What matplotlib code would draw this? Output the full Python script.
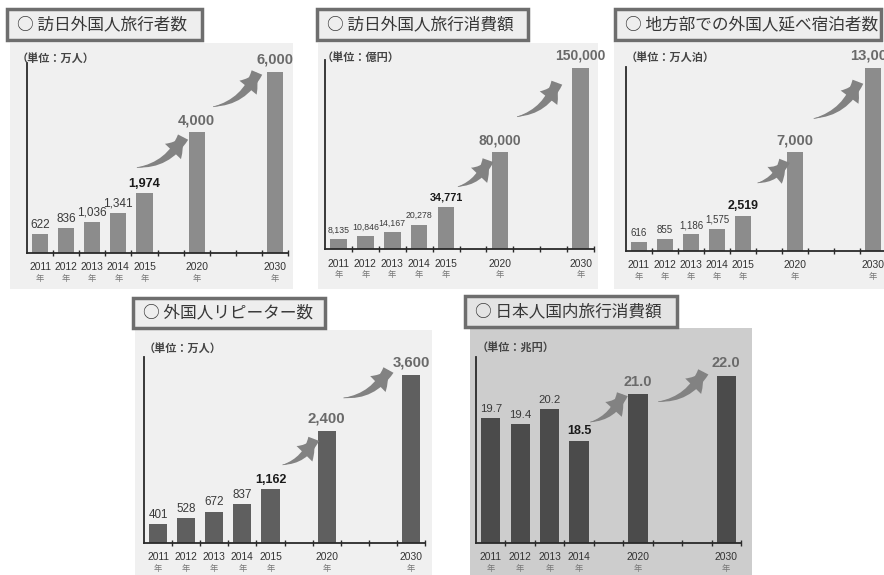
import numpy as np
import matplotlib.pyplot as plt
from matplotlib.patches import Rectangle, FancyArrowPatch


# -------------------------------------------------
# 1. Datos
# -------------------------------------------------
anios = ["2011", "2012", "2013", "2014", "2015", "2020", "2030"]
anios_nacional = ["2011", "2012", "2013", "2014", "2020", "2030"]

visitantes = [622, 836, 1036, 1341, 1974, 4000, 6000]
consumo_visitantes = [8135, 10846, 14167, 20278, 34771, 80000, 150000]
pernoctaciones_regionales = [616, 855, 1186, 1575, 2519, 7000, 13000]
repetidores = [401, 528, 672, 837, 1162, 2400, 3600]
consumo_nacional = [19.7, 19.4, 20.2, 18.5, 21.0, 22.0]

titulos = ["訪日外国人旅行者数", "訪日外国人旅行消費額", "地方部での外国人延べ宿泊者数",
           "外国人リピーター数", "日本人国内旅行消費額"]
unidades = ["（単位：万人）", "（単位：億円）", "（単位：万人泊）",
            "（単位：万人）", "（単位：兆円）"]
metas = ["2020", "2030"]

W, H = 884, 575
NUM = ["Liberation Sans", "Noto Sans CJK JP"]
CJK = ["Noto Sans CJK JP", "DejaVu Sans"]


# -------------------------------------------------
# 2. Utilidades
# -------------------------------------------------
def rect_fig(x0, y0, x1, y1):
    """Pixeles (origen arriba-izquierda) -> fracción de figura."""
    return [x0 / W, 1 - y1 / H, (x1 - x0) / W, (y1 - y0) / H]


def posiciones(lista_anios):
    """Huecos extra antes de las metas 2020 y 2030."""
    salto = {"2020": 1, "2030": 3}
    return [i + salto.get(a, 0) for i, a in enumerate(lista_anios)]


def formato(v):
    return f"{v:.1f}" if isinstance(v, float) else f"{v:,}"


def flecha(ax, a, b, color="#828282"):
    """Flecha curva con cuerpo afilado (x en datos, y en fracción de ejes)."""
    t = ax.get_xaxis_transform()
    cuerpo = FancyArrowPatch(b, a, transform=t,
                             arrowstyle="wedge,tail_width=0.75,shrink_factor=0.55",
                             connectionstyle="arc3,rad=-0.28", mutation_scale=11,
                             color=color, lw=0, shrinkA=0, shrinkB=0, clip_on=False)
    punta = FancyArrowPatch(a, b, transform=t,
                            arrowstyle="simple,head_width=1.45,head_length=1.15,tail_width=0.05",
                            connectionstyle="arc3,rad=0.28", mutation_scale=11,
                            color=color, lw=0, shrinkA=0, shrinkB=0, clip_on=False)
    ax.add_patch(cuerpo)
    ax.add_patch(punta)


# -------------------------------------------------
# 3. Panel
# -------------------------------------------------
def dibujar_panel(fig, p):
    fig.add_artist(Rectangle(rect_fig(*p["fondo"])[:2], *rect_fig(*p["fondo"])[2:],
                             transform=fig.transFigure, facecolor=p["color_fondo"],
                             edgecolor="none", zorder=0))
    cx0, cy0, cx1, cy1 = p["caja"]
    fig.add_artist(Rectangle(rect_fig(*p["caja"])[:2], *rect_fig(*p["caja"])[2:],
                             transform=fig.transFigure, facecolor=p["color_caja"],
                             edgecolor="#6e6e6e", linewidth=2.5, zorder=1))
    fig.text((cx0 + 10) / W, 1 - (cy0 + cy1) / 2 / H, "○ " + p["titulo"],
             fontsize=12, family=CJK, color="#383838", ha="left", va="center")
    fig.text(p["unidad"][0] / W, 1 - p["unidad"][1] / H, p["texto_unidad"],
             fontsize=8, family=CJK, fontweight="bold", color="#444444",
             ha="left", va="center")

    x0, top, x1, base = p["ejes"]
    ax = fig.add_axes(rect_fig(x0, top, x1, base))
    ax.patch.set_visible(False)

    pos = posiciones(p["anios"])
    n = pos[-1] + 1
    ax.bar(pos, p["valores"], width=p["ancho"], color=p["color_barra"])
    ax.set_xlim(-0.5, n - 0.5)
    ax.set_ylim(*p["ylim"])

    for s in ["top", "right"]:
        ax.spines[s].set_visible(False)
    for s in ["left", "bottom"]:
        ax.spines[s].set_color("#2a2a2a")
        ax.spines[s].set_linewidth(1.3)
    ax.set_yticks([])
    ax.set_xticks([])
    ax.set_xticks(np.arange(n) + 0.5, minor=True)
    ax.tick_params(which="minor", direction="inout", length=4, width=1, color="#2a2a2a")

    ultimo = max(i for i, a in enumerate(p["anios"]) if a not in metas)
    chico, negrita, grande = p["tamanos"]
    for i, (x, a, v) in enumerate(zip(pos, p["anios"], p["valores"])):
        if a in metas:
            kw = dict(fontsize=grande, fontweight="bold", color="#6a6a6a")
            dy = 6
        elif i == ultimo:
            kw = dict(fontsize=negrita, fontweight="bold", color="#1a1a1a")
            dy = 4.5
        else:
            kw = dict(fontsize=chico, color="#3a3a3a")
            dy = 4.5
        ax.annotate(formato(v), xy=(x, v), xytext=(0, dy), textcoords="offset points",
                    ha="center", va="baseline", family=NUM, annotation_clip=False, **kw)
        ax.annotate(a, xy=(x, 0), xycoords=ax.get_xaxis_transform(), xytext=(0, -12.6),
                    textcoords="offset points", ha="center", va="baseline",
                    fontsize=7.4, family=NUM, color="#333333")
        ax.annotate("年", xy=(x, 0), xycoords=ax.get_xaxis_transform(), xytext=(0, -20),
                    textcoords="offset points", ha="center", va="baseline",
                    fontsize=6, family=CJK, color="#777777")

    for a, b in p["flechas"]:
        flecha(ax, a, b)


# -------------------------------------------------
# 4. Figura
# -------------------------------------------------
paneles = [
    dict(titulo=titulos[0], texto_unidad=unidades[0], anios=anios, valores=visitantes,
         fondo=(10, 43, 293, 289), caja=(7, 9, 202, 40), ejes=(27, 63, 288, 253),
         ylim=(0, 6300), unidad=(17, 58), color_fondo="#f0f0f0", color_caja="#eeeeee",
         color_barra="#8c8c8c", ancho=0.62, tamanos=(8.5, 9.2, 10.5),
         flechas=[((3.71, 0.45), (5.48, 0.61)), ((6.63, 0.77), (8.31, 0.95))]),
    dict(titulo=titulos[1], texto_unidad=unidades[1], anios=anios, valores=consumo_visitantes,
         fondo=(318, 43, 598, 289), caja=(317, 9, 528, 40), ejes=(325, 60, 594, 249),
         ylim=(0, 156600), unidad=(322, 57), color_fondo="#f0f0f0", color_caja="#eeeeee",
         color_barra="#8c8c8c", ancho=0.62, tamanos=(6.3, 7.8, 10),
         flechas=[((4.44, 0.33), (5.56, 0.47)), ((6.64, 0.70), (8.12, 0.88))]),
    dict(titulo=titulos[2], texto_unidad=unidades[2], anios=anios,
         valores=pernoctaciones_regionales,
         fondo=(614, 43, 884, 289), caja=(615, 9, 881, 40), ejes=(626, 67, 886, 251),
         ylim=(0, 13070), unidad=(626, 57), color_fondo="#f0f0f0", color_caja="#eeeeee",
         color_barra="#8c8c8c", ancho=0.62, tamanos=(7.0, 8.9, 10.6),
         flechas=[((4.56, 0.37), (5.6, 0.49)), ((6.72, 0.72), (8.42, 0.92))]),
    dict(titulo=titulos[3], texto_unidad=unidades[3], anios=anios, valores=repetidores,
         fondo=(135, 330, 432, 575), caja=(133, 298, 325, 328), ejes=(144, 357, 425, 543),
         ylim=(0, 3986), unidad=(144, 348), color_fondo="#f0f0f0", color_caja="#eeeeee",
         color_barra="#5f5f5f", ancho=0.65, tamanos=(8.4, 9, 10.8),
         flechas=[((4.43, 0.42), (5.54, 0.56)), ((6.6, 0.78), (8.2, 0.93))]),
    dict(titulo=titulos[4], texto_unidad=unidades[4], anios=anios_nacional,
         valores=consumo_nacional,
         fondo=(470, 328, 752, 575), caja=(465, 296, 677, 327), ejes=(476, 357, 741, 543),
         ylim=(13, 23), unidad=(477, 348), color_fondo="#cdcdcd", color_caja="#e4e4e4",
         color_barra="#4b4b4b", ancho=0.65, tamanos=(8.2, 9, 10.5),
         flechas=[((3.38, 0.65), (4.47, 0.80)), ((5.69, 0.76), (7.22, 0.92))]),
]

fig = plt.figure(figsize=(W / 100, H / 100), dpi=100)
fig.patch.set_facecolor("white")
for p in paneles:
    dibujar_panel(fig, p)

fig.savefig("out.png", dpi=100)
